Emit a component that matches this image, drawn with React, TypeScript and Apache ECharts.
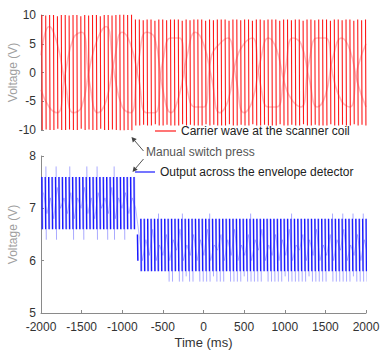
import React, { useEffect, useRef } from "react";
import * as echarts from "echarts";

// Axes
const timeMin = -2000;
const timeMax = 2000;
const timeTick = 500;
const carrierAxis = { min: -10, max: 10, interval: 5 };
const outputAxis = { min: 5, max: 8, interval: 1 };

// Carrier wave at the scanner coil: one stroke per displayed cycle
const carrierStart = -1990;
const carrierStep = 48;
const carrierAmp = [
  10.0, 9.9, 10.0, 10.0, 9.8, 10.0, 10.0, 9.9, 10.0, 10.0, 9.8, 10.0,
  9.9, 10.0, 10.0, 9.8, 10.0, 10.0, 9.9, 10.0, 10.1, 10.1, 10.0, 10.1,
  9.2, 9.2, 9.1, 9.2, 9.2, 9.0, 9.2, 9.2, 9.1, 9.2,
  9.2, 9.2, 9.0, 9.2, 9.1, 9.2, 9.2, 9.2, 9.0, 9.2,
  9.1, 9.2, 9.2, 9.2, 9.0, 9.2, 9.2, 9.1, 9.2, 9.2,
  9.0, 9.2, 9.2, 9.1, 9.2, 9.2, 9.2, 9.0, 9.2, 9.2,
  9.1, 9.2, 9.2, 9.0, 9.2, 9.2, 9.1, 9.2, 9.2, 9.2,
  9.0, 9.2, 9.2, 9.1, 9.2, 9.2, 9.0, 9.2, 9.1, 9.2,
];
// Faint aliasing (moiré) pattern inside the carrier, every 100 ms
const beatStart = -2000;
const beatStep = 100;
const carrierBeatA = [
  3, 8, 5, -2, -7, -6, 1, 6, 8, 0, -6, -7, 2, 7, 6, -3, -7, -4, 3, 7, 5,
  -1, -7, -5, 2, 5, 6, -2, -6, -6, 0, 6, 5, -1, -6, -4, 3, 6, 4, -2, -6,
];
const carrierBeatB = [
  -3, -6, -7, 0, 6, 7, -2, -7, -5, 2, 7, 5, -1, -7, -7, 2, 6, 6, -3, -6, -6,
  3, 5, 6, -1, -7, -5, 2, 6, 4, -2, -5, -6, 2, 6, 6, -1, -5, -6, 1, 5,
];

// Output across the envelope detector: dark core strokes
const outputStart = -1990;
const outputStep = 42;
const outputHigh = [
  7.6, 7.6, 7.6, 7.6, 7.6, 7.6, 7.6, 7.6, 7.6, 7.6, 7.6, 7.6, 7.6, 7.6,
  7.6, 7.6, 7.6, 7.6, 7.6, 7.6, 7.6, 7.6, 7.6, 7.6, 7.6, 7.6, 7.6, 7.6,
  6.5, 6.8, 6.8, 6.8, 6.8, 6.8, 6.8, 6.8, 6.8, 6.8,
  6.8, 6.8, 6.8, 6.8, 6.8, 6.8, 6.8, 6.8, 6.8, 6.8,
  6.8, 6.8, 6.8, 6.8, 6.8, 6.8, 6.8, 6.8, 6.8, 6.8,
  6.8, 6.8, 6.8, 6.8, 6.8, 6.8, 6.8, 6.8, 6.8, 6.8,
  6.8, 6.8, 6.8, 6.8, 6.8, 6.8, 6.8, 6.8, 6.8, 6.8,
  6.8, 6.8, 6.8, 6.8, 6.8, 6.8, 6.8, 6.8, 6.8, 6.8,
  6.8, 6.8, 6.8, 6.8, 6.8, 6.8, 6.8, 6.8,
];
const outputLow = [
  6.6, 6.6, 6.6, 6.6, 6.6, 6.6, 6.6, 6.6, 6.6, 6.6, 6.6, 6.6, 6.6, 6.6,
  6.6, 6.6, 6.6, 6.6, 6.6, 6.6, 6.6, 6.6, 6.6, 6.6, 6.6, 6.6, 6.6, 6.6,
  6.0, 5.8, 5.8, 5.8, 5.8, 5.8, 5.8, 5.8, 5.8, 5.8,
  5.8, 5.8, 5.8, 5.8, 5.8, 5.8, 5.8, 5.8, 5.8, 5.8,
  5.8, 5.8, 5.8, 5.8, 5.8, 5.8, 5.8, 5.8, 5.8, 5.8,
  5.8, 5.8, 5.8, 5.8, 5.8, 5.8, 5.8, 5.8, 5.8, 5.8,
  5.8, 5.8, 5.8, 5.8, 5.8, 5.8, 5.8, 5.8, 5.8, 5.8,
  5.8, 5.8, 5.8, 5.8, 5.8, 5.8, 5.8, 5.8, 5.8, 5.8,
  5.8, 5.8, 5.8, 5.8, 5.8, 5.8, 5.8, 5.8,
];
// Lighter full-extent spikes of the same strokes
const outputPeak = [
  7.6, 7.8, 7.6, 7.6, 7.8, 7.6, 7.6, 7.6, 7.8, 7.6, 7.6, 7.6, 7.6, 7.8,
  7.6, 7.6, 7.8, 7.6, 7.6, 7.6, 7.6, 7.8, 7.6, 7.6, 7.6, 7.6, 7.6, 7.6,
  6.5, 6.8, 6.8, 6.8, 6.8, 6.8, 6.9, 6.8, 6.8, 6.8,
  6.8, 6.8, 6.8, 6.9, 6.8, 6.8, 6.8, 6.8, 6.8, 6.8,
  6.8, 6.9, 6.8, 6.8, 6.8, 6.8, 6.8, 6.8, 6.8, 6.8,
  6.8, 6.8, 6.8, 6.9, 6.8, 6.8, 6.8, 6.8, 6.8, 6.8,
  6.8, 6.8, 6.8, 6.8, 6.8, 6.9, 6.8, 6.8, 6.8, 6.8,
  6.8, 6.8, 6.8, 6.8, 6.8, 6.8, 6.8, 6.9, 6.8, 6.8,
  6.9, 6.8, 6.8, 6.9, 6.8, 6.8, 6.9, 6.8,
];
const outputTrough = [
  6.6, 6.4, 6.6, 6.6, 6.4, 6.6, 6.6, 6.6, 6.6, 6.4, 6.6, 6.6, 6.4, 6.6,
  6.6, 6.6, 6.4, 6.6, 6.6, 6.4, 6.6, 6.4, 6.6, 6.6, 6.4, 6.6, 6.6, 6.6,
  6.0, 5.8, 5.8, 5.8, 5.8, 5.8, 5.8, 5.8, 5.8, 5.6,
  5.6, 5.8, 5.6, 5.6, 5.7, 5.6, 5.6, 5.8, 5.6, 5.6,
  5.6, 5.6, 5.7, 5.6, 5.6, 5.6, 5.8, 5.6, 5.6, 5.6,
  5.6, 5.7, 5.6, 5.6, 5.6, 5.6, 5.6, 5.8, 5.6, 5.6,
  5.6, 5.6, 5.6, 5.7, 5.6, 5.6, 5.6, 5.6, 5.6, 5.6,
  5.7, 5.6, 5.6, 5.6, 5.6, 5.6, 5.8, 5.6, 5.6, 5.6,
  5.6, 5.6, 5.6, 5.7, 5.6, 5.6, 5.6, 5.6,
];
// Faint in-between samples
const outputMid = [
  7.3, 6.9, 7.2, 6.8, 7.4, 7.0, 7.2, 6.9, 7.3, 6.8, 7.2, 7.0, 7.4, 6.9,
  7.2, 6.8, 7.3, 7.0, 7.2, 6.9, 7.4, 6.8, 7.2, 7.0, 7.3, 6.9, 7.2, 7.0,
  6.5, 6.0, 6.4, 6.1, 6.6, 6.0, 6.3, 6.1, 6.5, 6.0,
  6.4, 6.2, 6.6, 6.0, 6.3, 6.1, 6.5, 6.0, 6.4, 6.1,
  6.6, 6.0, 6.3, 6.2, 6.5, 6.0, 6.4, 6.1, 6.6, 6.0,
  6.3, 6.1, 6.5, 6.0, 6.4, 6.2, 6.6, 6.0, 6.3, 6.1,
  6.5, 6.0, 6.4, 6.1, 6.6, 6.0, 6.3, 6.2, 6.5, 6.0,
  6.4, 6.1, 6.6, 6.0, 6.3, 6.1, 6.5, 6.0, 6.4, 6.2,
  6.6, 6.0, 6.3, 6.1, 6.5, 6.0, 6.4, 6.1,
];

const carrierName = "Carrier wave at the scanner coil";
const outputName = "Output across the envelope detector";
const switchLabel = "Manual switch press";

const FONT = "'Liberation Sans', Arial, Helvetica, sans-serif";
const RED = "#ff1a1a";
const BLUE = "#1a1aff";
const AXIS = "#8a8a8a";

function strokes(start: number, step: number, highs: number[], lows: number[]) {
  const d: any[] = [];
  highs.forEach((h, i) => {
    const t = start + i * step;
    d.push([t, h], [t + 5, lows[i]], [t + 6, "-"]);
  });
  return d;
}
function series(start: number, step: number, vals: number[]) {
  return vals.map((v, i) => [start + i * step, v]);
}

function arrow(x1: number, y1: number, x2: number, y2: number) {
  const ang = Math.atan2(y2 - y1, x2 - x1);
  const L = 5, W = 2.6;
  const bx = x2 - L * Math.cos(ang), by = y2 - L * Math.sin(ang);
  const px = -Math.sin(ang) * W, py = Math.cos(ang) * W;
  return [
    { type: "line", shape: { x1, y1, x2: bx, y2: by }, style: { stroke: "#555", lineWidth: 1 } },
    {
      type: "polygon",
      shape: { points: [[x2, y2], [bx + px, by + py], [bx - px, by - py]] },
      style: { fill: "#444" },
    },
  ];
}

export default function App() {
  const ref = useRef<HTMLDivElement>(null);
  useEffect(() => {
    document.body.style.margin = "0";
    const chart = echarts.init(ref.current!, null, { renderer: "svg" });
    const axisCommon = {
      axisLine: { show: true, onZero: false, lineStyle: { color: AXIS, width: 1 } },
      axisTick: { show: true, inside: true, length: 3, lineStyle: { color: AXIS } },
      splitLine: { show: false },
      axisLabel: { color: "#333", fontSize: 12, fontFamily: FONT, formatter: (v: number) => String(v) },
    };
    const gridCommon = { left: 41, right: 14, containLabel: false, outerBoundsMode: "none" };
    const yName = {
      name: "Voltage (V)",
      nameLocation: "middle",
      nameGap: 22,
      nameMoveOverlap: false,
      nameTextStyle: { color: "#a0a0a0", fontSize: 12, fontFamily: FONT },
    };
    chart.setOption({
      animation: false,
      textStyle: { fontFamily: FONT },
      grid: [
        { ...gridCommon, top: 15, height: 115 },
        { ...gridCommon, top: 156, height: 157 },
      ],
      xAxis: [
        { type: "value", gridIndex: 0, min: timeMin, max: timeMax, interval: timeTick, show: false },
        {
          type: "value",
          gridIndex: 1,
          min: timeMin,
          max: timeMax,
          interval: timeTick,
          ...axisCommon,
          axisLabel: { ...axisCommon.axisLabel, margin: 8 },
          name: "Time (ms)",
          nameLocation: "middle",
          nameGap: 23,
          nameMoveOverlap: false,
          nameTextStyle: { color: "#333", fontSize: 13, fontFamily: FONT },
        },
      ],
      yAxis: [
        {
          type: "value",
          gridIndex: 0,
          ...carrierAxis,
          ...axisCommon,
          axisLabel: { ...axisCommon.axisLabel, margin: 5 },
          ...yName,
        },
        {
          type: "value",
          gridIndex: 1,
          ...outputAxis,
          ...axisCommon,
          axisLabel: { ...axisCommon.axisLabel, margin: 5 },
          ...yName,
        },
      ],
      legend: [
        {
          data: [carrierName],
          left: 155,
          top: 125,
          padding: 0,
          icon: "rect",
          itemWidth: 21,
          itemHeight: 1.2,
          textStyle: { color: "#222", fontSize: 12, fontFamily: FONT },
          selectedMode: false,
        },
        {
          data: [outputName],
          left: 135,
          top: 166,
          padding: 0,
          icon: "rect",
          itemWidth: 20,
          itemHeight: 1.2,
          textStyle: { color: "#222", fontSize: 12, fontFamily: FONT },
          selectedMode: false,
        },
      ],
      series: [
        {
          name: "carrier-beat-a",
          type: "line",
          xAxisIndex: 0,
          yAxisIndex: 0,
          data: series(beatStart, beatStep, carrierBeatA),
          smooth: true,
          symbol: "none",
          lineStyle: { color: "rgba(245,110,120,0.45)", width: 1.6 },
          z: 1,
        },
        {
          name: "carrier-beat-b",
          type: "line",
          xAxisIndex: 0,
          yAxisIndex: 0,
          data: series(beatStart, beatStep, carrierBeatB),
          smooth: true,
          symbol: "none",
          lineStyle: { color: "rgba(245,110,120,0.45)", width: 1.6 },
          z: 1,
        },
        {
          name: carrierName,
          type: "line",
          xAxisIndex: 0,
          yAxisIndex: 0,
          data: strokes(carrierStart, carrierStep, carrierAmp, carrierAmp.map((a) => -a)),
          connectNulls: false,
          symbol: "none",
          color: RED,
          lineStyle: { color: RED, width: 1.1 },
          z: 2,
        },
        {
          name: "output-mid",
          type: "line",
          xAxisIndex: 1,
          yAxisIndex: 1,
          data: series(outputStart + outputStep / 2, outputStep, outputMid),
          symbol: "none",
          lineStyle: { color: "rgba(90,90,255,0.4)", width: 1 },
          z: 1,
        },
        {
          name: "output-spikes",
          type: "line",
          xAxisIndex: 1,
          yAxisIndex: 1,
          data: strokes(outputStart + 8, outputStep, outputPeak, outputTrough),
          connectNulls: false,
          symbol: "none",
          lineStyle: { color: "rgba(60,60,255,0.55)", width: 0.8 },
          z: 1,
        },
        {
          name: outputName,
          type: "line",
          xAxisIndex: 1,
          yAxisIndex: 1,
          data: strokes(outputStart, outputStep, outputHigh, outputLow),
          connectNulls: false,
          symbol: "none",
          color: BLUE,
          lineStyle: { color: BLUE, width: 1.3 },
          z: 2,
        },
      ],
      graphic: [
        {
          type: "text",
          left: 146,
          top: 146,
          style: { text: switchLabel, fill: "#555", fontSize: 12, fontFamily: FONT },
        },
        ...arrow(143.5, 151, 131.5, 137),
        ...arrow(143.5, 159, 132.5, 172),
      ],
    });
    return () => chart.dispose();
  }, []);
  return <div ref={ref} style={{ width: 380, height: 352 }} />;
}
